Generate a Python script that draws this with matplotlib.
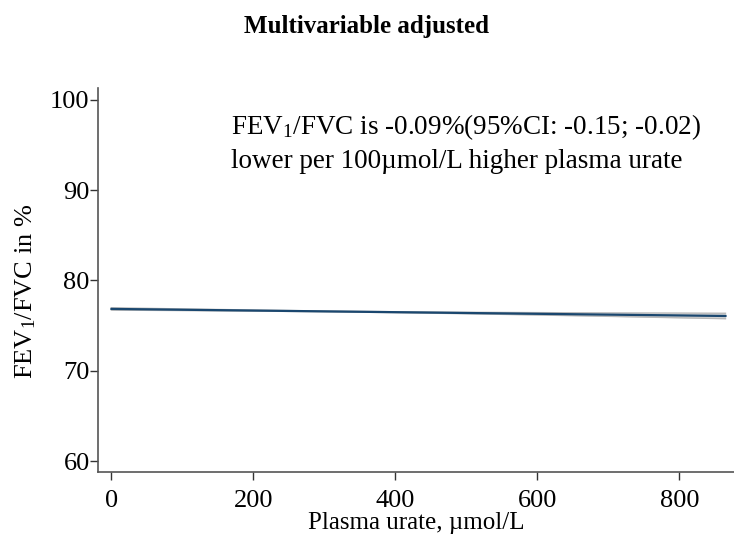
import matplotlib
matplotlib.use('Agg')
import matplotlib.pyplot as plt

# readings
urate = [0, 100, 200, 300, 400, 500, 600, 700, 800, 865]
fit = [76.85, 76.76, 76.67, 76.58, 76.49, 76.40, 76.31, 76.22, 76.13, 76.07]
lower = [76.72, 76.67, 76.61, 76.54, 76.44, 76.32, 76.18, 76.03, 75.87, 75.77]
upper = [76.98, 76.85, 76.73, 76.62, 76.54, 76.48, 76.44, 76.41, 76.39, 76.37]
xticks = [0, 200, 400, 600, 800]
yticks = [60, 70, 80, 90, 100]

plt.rcParams['font.family'] = ['Liberation Serif', 'DejaVu Serif']
plt.rcParams['mathtext.fontset'] = 'custom'
plt.rcParams['mathtext.rm'] = 'Liberation Serif'
plt.rcParams['mathtext.it'] = 'Liberation Serif:italic'

fig = plt.figure(figsize=(7.34, 5.49), dpi=100)
ax = fig.add_axes([0.1335, 0.140, 0.8665, 0.700])

ax.fill_between(urate, lower, upper, color='#d6d6d6', lw=0)
ax.plot(urate, lower, color='#b8b8b8', lw=1)
ax.plot(urate, upper, color='#b8b8b8', lw=1)
ax.plot(urate, fit, color='#1a476f', lw=1.6)

ax.set_xlim(-19, 877)
ax.set_ylim(58.8, 101.3)
ax.set_xticks(xticks)
ax.set_yticks(yticks)
ax.tick_params(labelsize=19, length=6, width=1, color='#333333', direction='out')
ax.tick_params(axis='x', pad=7)
ax.tick_params(axis='y', pad=0)

for s in ['top', 'right']:
    ax.spines[s].set_visible(False)
for s in ['left', 'bottom']:
    ax.spines[s].set_color('#555555')
    ax.spines[s].set_linewidth(1.2)

ax.set_xlabel('Plasma urate, µmol/L', fontsize=18)
ax.xaxis.set_label_coords(0.5, -0.105)
ax.set_ylabel(r'FEV$_1$/FVC in %', fontsize=19)
ax.yaxis.set_label_coords(-0.095, 0.47)

ax.text(168, 97.0, r'FEV$_1$/FVC is -0.09%(95%CI: -0.15; -0.02)', fontsize=19.5, va='center')
ax.text(168, 93.1, 'lower per 100µmol/L higher plasma urate', fontsize=19.5, va='center')

fig.text(0.5, 1 - 26 / 549, 'Multivariable adjusted', ha='center', va='center',
         fontsize=18, fontweight='bold')

plt.savefig('out.png', dpi=100)
